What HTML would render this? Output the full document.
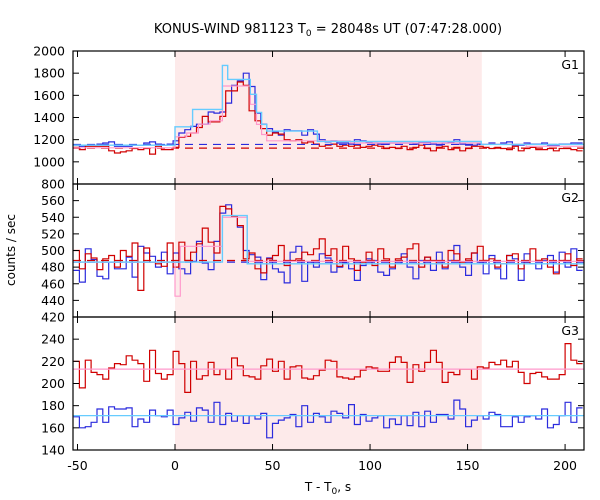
<!DOCTYPE html>
<html><head><meta charset="utf-8"><style>
html,body{margin:0;padding:0;background:#fff;}
svg{display:block;font-family:"DejaVu Sans","Liberation Sans",sans-serif;}
</style></head><body>
<svg id="chart" width="600" height="500" xmlns="http://www.w3.org/2000/svg">
<text x="328" y="33" font-size="13" text-anchor="middle">KONUS-WIND 981123 T<tspan font-size="9" dy="3">0</tspan><tspan dy="-3"> = 28048s UT (07:47:28.000)</tspan></text>
<text transform="translate(15,250) rotate(-90)" font-size="12" text-anchor="middle">counts / sec</text>
<text x="328" y="491" font-size="12" text-anchor="middle">T - T<tspan font-size="9" dy="3">0</tspan><tspan dy="-3">, s</tspan></text>
<g id="plot"></g>
</svg>
<script>
const binStart = -52, binWidth = 3;
const xTicks = [-50, 0, 50, 100, 150, 200];
const shadeRange = [0, 157.3];
const g1Ticks = [800, 1000, 1200, 1400, 1600, 1800, 2000];
const g2Ticks = [420, 440, 460, 480, 500, 520, 540, 560];
const g3Ticks = [140, 160, 180, 200, 220, 240];
const g1Red = [1130,1110,1140,1140,1140,1140,1100,1080,1090,1100,1120,1110,1120,1070,1140,1110,1110,1130,1220,1230,1260,1310,1410,1360,1360,1410,1640,1640,1720,1690,1460,1370,1300,1240,1260,1250,1200,1190,1200,1170,1180,1160,1140,1150,1160,1140,1150,1140,1150,1130,1140,1150,1140,1120,1130,1120,1140,1110,1130,1150,1120,1100,1130,1140,1110,1130,1100,1120,1140,1140,1130,1120,1130,1120,1110,1140,1100,1120,1130,1110,1110,1120,1100,1120,1120,1110,1100];
const g1Blue = [1150,1140,1150,1150,1160,1170,1180,1140,1140,1140,1150,1150,1170,1180,1160,1150,1160,1190,1260,1290,1320,1340,1340,1450,1440,1450,1530,1690,1730,1800,1680,1440,1340,1300,1270,1240,1290,1280,1280,1240,1290,1250,1200,1180,1190,1170,1170,1160,1200,1190,1180,1170,1160,1160,1170,1170,1170,1170,1160,1180,1180,1160,1150,1170,1180,1200,1160,1150,1150,1160,1160,1170,1160,1170,1180,1150,1150,1170,1160,1160,1170,1150,1150,1160,1160,1170,1170];
const g1Cyan = [[-52,0,1150],[0,9,1316],[9,24.3,1473],[24.3,27,1870],[27,38.6,1744],[38.6,41.8,1609],[41.8,44.4,1446],[44.4,47,1338],[47,73,1277],[73,157,1184],[157,209.7,1157]];
const g1Pink = [[-52,0,1127],[0,6,1226],[6,12,1260],[12,18,1340],[18,24.3,1370],[24.3,38.6,1684],[38.6,41.8,1519],[41.8,44.4,1338],[44.4,47,1247],[47,90,1190],[90,157,1170],[157,180,1160],[180,209.7,1140]];
const g1DashRed = 1124, g1DashBlue = 1157;
const g2Red = [500,478,496,491,477,490,494,480,500,493,509,452,503,486,484,481,509,480,510,488,498,508,527,510,497,553,550,541,530,490,497,478,473,490,494,506,482,488,490,498,495,502,514,494,502,481,505,490,476,486,498,482,502,490,480,490,492,502,508,480,492,488,484,480,500,496,486,490,497,505,488,490,480,484,494,496,478,486,502,488,490,480,472,488,496,482,490];
const g2Blue = [476,462,502,489,469,466,486,478,478,492,468,505,497,493,480,498,472,497,478,472,487,511,485,477,511,545,555,541,528,500,495,492,465,491,478,474,461,498,505,463,486,480,496,491,474,480,485,478,464,482,490,488,474,470,478,484,496,480,466,488,492,476,498,478,488,506,480,470,497,486,472,494,478,466,494,490,464,496,484,478,488,494,474,498,480,502,476];
const g2Cyan = [[-52,24.3,486],[24.3,37,542],[37,209.7,484]];
const g2Pink = [[-52,0,486],[0,2.7,445],[2.7,24.3,505],[24.3,37,540],[37,209.7,487]];
const g2DashRed = 488, g2DashBlue = 486;
const g3Red = [220,196,221,210,208,204,214,218,217,225,221,218,202,230,209,204,208,229,218,192,220,204,207,219,208,213,204,223,216,207,206,204,216,222,211,220,204,215,216,205,204,207,212,221,220,206,205,204,206,212,215,214,211,211,219,224,219,201,217,211,219,230,219,201,210,208,213,213,204,215,214,219,217,221,215,220,210,200,209,210,206,204,204,208,236,221,218];
const g3Blue = [170,160,161,165,177,165,179,177,177,178,161,168,165,176,171,170,176,163,169,174,166,178,176,165,183,163,173,166,171,164,171,168,173,151,164,167,169,172,161,180,165,173,170,165,175,173,169,181,163,172,166,169,171,160,168,163,171,162,174,161,175,165,172,172,168,185,177,161,167,171,168,174,172,161,161,170,165,170,171,168,177,160,163,171,183,165,178];
const g3Line1 = 213, g3Line2 = 171;

const X0 = 73, X1 = 584, xMin = -52.3, xMax = 209.7;
const sx = t => X0 + (t - xMin) / (xMax - xMin) * (X1 - X0);
const panels = [
 {name:'g1', top:51, bot:184, min:800, max:2000, ticks:g1Ticks, label:'G1'},
 {name:'g2', top:184, bot:317, min:420, max:580, ticks:g2Ticks, label:'G2'},
 {name:'g3', top:317, bot:450, min:140, max:260, ticks:g3Ticks, label:'G3'}
];
const NS = 'http://www.w3.org/2000/svg';
const root = document.getElementById('plot');
function mk(tag, attrs, parent){const e=document.createElementNS(NS,tag);for(const k in attrs)e.setAttribute(k,attrs[k]);(parent||root).appendChild(e);return e;}
function mkY(p){return v => p.bot - (v - p.min)/(p.max - p.min)*(p.bot - p.top);}

const shade = mk('rect',{x:sx(shadeRange[0]),y:51,width:sx(shadeRange[1])-sx(shadeRange[0]),height:399,fill:'#fdeaea'});



function histPath(vals, sy){
  let d='';
  vals.forEach((v,i)=>{
    let a=Math.max(binStart+i*binWidth,xMin), b=Math.min(binStart+(i+1)*binWidth,xMax);
    d += (i===0?'M':'L')+sx(a).toFixed(1)+','+sy(v).toFixed(1)+'L'+sx(b).toFixed(1)+','+sy(v).toFixed(1);
  });
  return d;
}
function segPath(segs, sy){
  let d='';
  segs.forEach((s,i)=>{d += (i===0?'M':'L')+sx(s[0]).toFixed(1)+','+sy(s[2]).toFixed(1)+'L'+sx(Math.min(s[1],xMax)).toFixed(1)+','+sy(s[2]).toFixed(1);});
  return d;
}
function hline(v, sy, color, dash, name){
  const l = mk('line',{x1:X0,x2:X1,y1:sy(v),y2:sy(v),stroke:color,'stroke-width':1.2,'stroke-dasharray':dash||'none'});
  
  
}
function series(d, color, name, w){
  const p = mk('path',{d:d,fill:'none',stroke:color,'stroke-width':w||1.2});
  
  
}

panels.forEach(p=>{
  const sy = mkY(p);
  if(p.name==='g1'){
    series(histPath(g1Blue,sy),'#2b2bdd','g1-blue-counts');
    series(histPath(g1Red,sy),'#d00000','g1-red-counts');
    hline(g1DashBlue,sy,'#2b2bdd','8,6','g1-blue-background');
    hline(g1DashRed,sy,'#d00000','8,6','g1-red-background');
    series(segPath(g1Pink,sy),'#ff99cc','g1-pink-model');
    series(segPath(g1Cyan,sy),'#66ccff','g1-cyan-model',1.4);
  } else if(p.name==='g2'){
    series(histPath(g2Blue,sy),'#2b2bdd','g2-blue-counts');
    series(histPath(g2Red,sy),'#d00000','g2-red-counts');
    hline(g2DashBlue,sy,'#2b2bdd','8,6','g2-blue-background');
    hline(g2DashRed,sy,'#d00000','8,6','g2-red-background');
    series(segPath(g2Pink,sy),'#ff99cc','g2-pink-model');
    series(segPath(g2Cyan,sy),'#66ccff','g2-cyan-model',1.4);
  } else {
    series(histPath(g3Red,sy),'#d00000','g3-red-counts');
    series(histPath(g3Blue,sy),'#2b2bdd','g3-blue-counts');
    hline(g3Line1,sy,'#ff99cc',null,'g3-pink-background');
    hline(g3Line2,sy,'#66ccff',null,'g3-cyan-background');
  }
  const fr = mk('rect',{x:X0,y:p.top,width:X1-X0,height:p.bot-p.top,fill:'none',stroke:'#000','stroke-width':1.2});
  
  
  p.ticks.forEach(v=>{
    const y=sy(v);
    mk('line',{x1:X0,x2:X0+6,y1:y,y2:y,stroke:'#000','stroke-width':1});
    mk('line',{x1:X1-6,x2:X1,y1:y,y2:y,stroke:'#000','stroke-width':1});
    const t = mk('text',{x:X0-8,y:y+4.5,'font-size':12.5,'text-anchor':'end'});
    t.textContent = v;
    
    
  });
  xTicks.forEach(v=>{
    const x=sx(v);
    mk('line',{x1:x,x2:x,y1:p.top,y2:p.top+6,stroke:'#000','stroke-width':1});
    mk('line',{x1:x,x2:x,y1:p.bot-6,y2:p.bot,stroke:'#000','stroke-width':1});
  });
  const lab = mk('text',{x:X1-5,y:p.top+18,'font-size':12.5,'text-anchor':'end'});
  lab.textContent = p.label;
  
  
});
xTicks.forEach(v=>{
  const t = mk('text',{x:sx(v),y:470,'font-size':12.5,'text-anchor':'middle'});
  t.textContent = v;
  
  
});
</script>
</body></html>
